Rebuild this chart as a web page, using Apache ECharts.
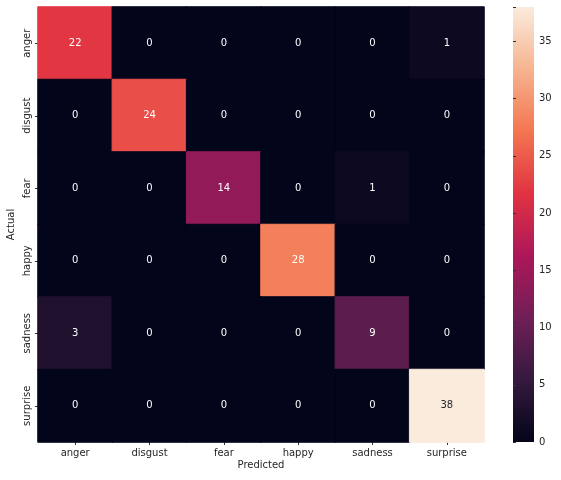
<!DOCTYPE html>
<html>
<head>
<meta charset="utf-8">
<script src="https://cdn.jsdelivr.net/npm/echarts@6/dist/echarts.min.js"></script>
<style>
  html, body { margin: 0; padding: 0; background: #fff; }
  #main { width: 561px; height: 480px; }
</style>
</head>
<body>
<div id="main"></div>
<script>
// class names, rows = actual, columns = predicted
var labels = ['anger', 'disgust', 'fear', 'happy', 'sadness', 'surprise'];
var matrix = [
  [22, 0, 0, 0, 0, 1],
  [0, 24, 0, 0, 0, 0],
  [0, 0, 14, 0, 1, 0],
  [0, 0, 0, 28, 0, 0],
  [3, 0, 0, 0, 9, 0],
  [0, 0, 0, 0, 0, 38]
];
var cbTicks = [0, 5, 10, 15, 20, 25, 30, 35];
var vMin = 0, vMax = 38;

// rocket colormap stops
var rocket = ['#03051a', '#35193e', '#701f57', '#ad1759', '#e13342', '#f37651', '#f6b48f', '#faebdd'];

var cells = [];
for (var r = 0; r < matrix.length; r++) {
  for (var c = 0; c < matrix[r].length; c++) {
    var v = matrix[r][c];
    var t = (v - vMin) / (vMax - vMin);
    var col = echarts.color.lerp(t, rocket);
    cells.push({
      value: [c, r, v],
      itemStyle: { color: col, borderColor: col, borderWidth: 1 },
      label: { color: t > 0.8 ? '#262626' : '#ffffff' }
    });
  }
}

var gradStops = rocket.map(function (col, i) {
  return { offset: 1 - i / (rocket.length - 1), color: col };
});

var font = 'DejaVu Sans';
var chart = echarts.init(document.getElementById('main'));
chart.setOption({
  animation: false,
  textStyle: { fontFamily: font },
  grid: [
    { left: 38, right: 77, top: 7, bottom: 38, outerBoundsMode: 'none', containLabel: false },
    { left: 513, width: 21, top: 7, bottom: 38, outerBoundsMode: 'none', containLabel: false }
  ],
  xAxis: [{
    gridIndex: 0,
    type: 'category',
    data: labels,
    name: 'Predicted',
    nameLocation: 'middle',
    nameGap: 18,
    nameMoveOverlap: false,
    nameTextStyle: { color: '#262626', fontSize: 10, fontFamily: font },
    axisLine: { show: false },
    axisTick: { show: true, alignWithLabel: true, length: 3, lineStyle: { color: '#333' } },
    axisLabel: { color: '#262626', fontSize: 10, margin: 6, fontFamily: font },
    splitLine: { show: false }
  }, {
    gridIndex: 1,
    type: 'value',
    show: false
  }],
  yAxis: [{
    gridIndex: 0,
    type: 'category',
    data: labels,
    inverse: true,
    name: 'Actual',
    nameLocation: 'middle',
    nameGap: 22,
    nameMoveOverlap: false,
    nameTextStyle: { color: '#262626', fontSize: 10, fontFamily: font },
    axisLine: { show: false },
    axisTick: { show: true, alignWithLabel: true, length: 3, lineStyle: { color: '#333' } },
    axisLabel: { color: '#262626', fontSize: 10, rotate: 90, margin: 6, fontFamily: font },
    splitLine: { show: false }
  }, {
    gridIndex: 1,
    type: 'value',
    position: 'right',
    min: vMin,
    max: vMax,
    interval: 5,
    axisLine: { show: false },
    axisTick: { show: true, length: 3, lineStyle: { color: '#333' } },
    axisLabel: {
      color: '#262626', fontSize: 10, margin: 5, fontFamily: font,
      customValues: cbTicks
    },
    splitLine: { show: false }
  }],
  graphic: [{
    type: 'rect',
    shape: { x: 513, y: 7, width: 21, height: 435 },
    style: {
      fill: new echarts.graphic.LinearGradient(0, 0, 0, 1, gradStops)
    },
    z: 0
  }],
  series: [{
    type: 'heatmap',
    xAxisIndex: 0,
    yAxisIndex: 0,
    data: cells,
    label: { show: true, fontSize: 10, fontFamily: font },
    emphasis: { disabled: true }
  }]
});
</script>
</body>
</html>
